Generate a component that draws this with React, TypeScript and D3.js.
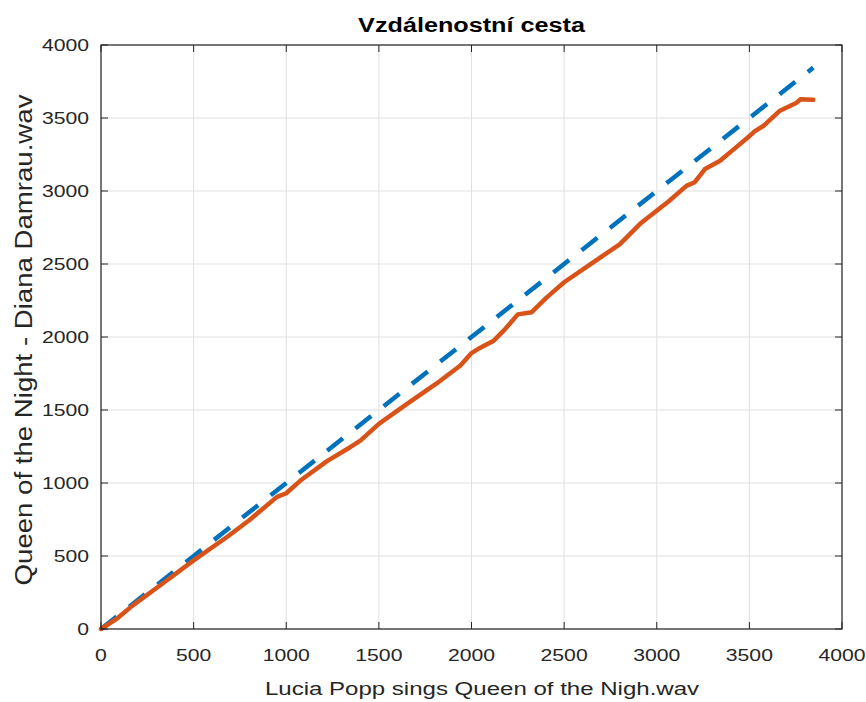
import React from "react";
import * as d3 from "d3";

const width = 866;
const height = 702;
const margin = { top: 45, right: 24, bottom: 73, left: 101 };

// diagonal reference path
const diagX = [0, 3845];
const diagY = [0, 3845];

// warping path
const pathX = [
  0, 90, 170, 320, 500, 680, 800, 950, 1000, 1075, 1220, 1345, 1400, 1500,
  1650, 1810, 1940, 2000, 2045, 2120, 2175, 2250, 2325, 2405, 2500, 2655,
  2800, 2910, 3020, 3065, 3160, 3205, 3260, 3340, 3415, 3490, 3530, 3575,
  3665, 3755, 3775, 3845,
];
const pathY = [
  0, 75, 160, 300, 470, 630, 745, 905, 930, 1015, 1150, 1245, 1290, 1405,
  1540, 1680, 1805, 1890, 1925, 1975, 2045, 2155, 2170, 2270, 2375, 2510,
  2635, 2775, 2885, 2930, 3035, 3060, 3150, 3205, 3285, 3365, 3410, 3445,
  3550, 3605, 3628, 3625,
];

const xTicks = [0, 500, 1000, 1500, 2000, 2500, 3000, 3500, 4000];
const yTicks = [0, 500, 1000, 1500, 2000, 2500, 3000, 3500, 4000];

const title = "Vzdálenostní cesta";
const xLabel = "Lucia Popp sings Queen of the Nigh.wav";
const yLabel = "Queen of the Night - Diana Damrau.wav";

const axisColor = "#262626";
const gridColor = "#dfdfdf";
const font = "'Liberation Sans', Arial, Helvetica, sans-serif";
const sx = 1.3; // text in the picture is wider than Arial

export default function App() {
  const x = d3
    .scaleLinear()
    .domain([0, 4000])
    .range([margin.left, width - margin.right]);
  const y = d3
    .scaleLinear()
    .domain([0, 4000])
    .range([height - margin.bottom, margin.top]);

  const line = d3
    .line<[number, number]>()
    .x((d) => x(d[0]))
    .y((d) => y(d[1]));

  const diag = line(diagX.map((v, i) => [v, diagY[i]]));
  const path = line(pathX.map((v, i) => [v, pathY[i]]));

  const x0 = x(0);
  const x1 = x(4000);
  const y0 = y(0);
  const y1 = y(4000);
  const tl = 7;

  return (
    <div style={{ position: "absolute", left: 0, top: 0 }}>
      <svg width={width} height={height} style={{ display: "block" }}>
        <rect width={width} height={height} fill="#fff" />
        {/* grid */}
        {xTicks.map((t) => (
          <line key={"gx" + t} x1={x(t)} x2={x(t)} y1={y0} y2={y1} stroke={gridColor} strokeWidth={1} />
        ))}
        {yTicks.map((t) => (
          <line key={"gy" + t} x1={x0} x2={x1} y1={y(t)} y2={y(t)} stroke={gridColor} strokeWidth={1} />
        ))}

        <path
          d={diag || ""}
          fill="none"
          stroke="#0072BD"
          strokeWidth={4.5}
          strokeDasharray="20,16"
        />
        <path
          d={path || ""}
          fill="none"
          stroke="#D95319"
          strokeWidth={4.5}
          strokeLinejoin="round"
          strokeLinecap="round"
        />

        {/* ticks, inward on all sides */}
        {xTicks.map((t) => (
          <g key={"tx" + t}>
            <line x1={x(t)} x2={x(t)} y1={y0} y2={y0 - tl} stroke={axisColor} />
            <line x1={x(t)} x2={x(t)} y1={y1} y2={y1 + tl} stroke={axisColor} />
            <text
              transform={`translate(${x(t)}, ${y0 + 32}) scale(${sx}, 1)`}
              textAnchor="middle"
              fontFamily={font}
              fontSize={16.3}
              fill={axisColor}
            >
              {t}
            </text>
          </g>
        ))}
        {yTicks.map((t) => (
          <g key={"ty" + t}>
            <line x1={x0} x2={x0 + tl} y1={y(t)} y2={y(t)} stroke={axisColor} />
            <line x1={x1} x2={x1 - tl} y1={y(t)} y2={y(t)} stroke={axisColor} />
            <text
              transform={`translate(${x0 - 12}, ${y(t) + 6}) scale(${sx}, 1)`}
              textAnchor="end"
              fontFamily={font}
              fontSize={16.3}
              fill={axisColor}
            >
              {t}
            </text>
          </g>
        ))}

        <rect
          x={x0}
          y={y1}
          width={x1 - x0}
          height={y0 - y1}
          fill="none"
          stroke={axisColor}
          strokeWidth={1.2}
        />

        <text
          transform={`translate(${(x0 + x1) / 2}, 32) scale(1.2, 1)`}
          textAnchor="middle"
          fontFamily={font}
          fontSize={21}
          fontWeight="bold"
          fill="#000"
        >
          {title}
        </text>
        <text
          transform={`translate(482, 695) scale(${sx}, 1)`}
          textAnchor="middle"
          fontFamily={font}
          fontSize={18.5}
          fill={axisColor}
        >
          {xLabel}
        </text>
        <text
          transform={`translate(32, 340) rotate(-90) scale(1.15, 1)`}
          textAnchor="middle"
          fontFamily={font}
          fontSize={24}
          fill={axisColor}
        >
          {yLabel}
        </text>
      </svg>
    </div>
  );
}
